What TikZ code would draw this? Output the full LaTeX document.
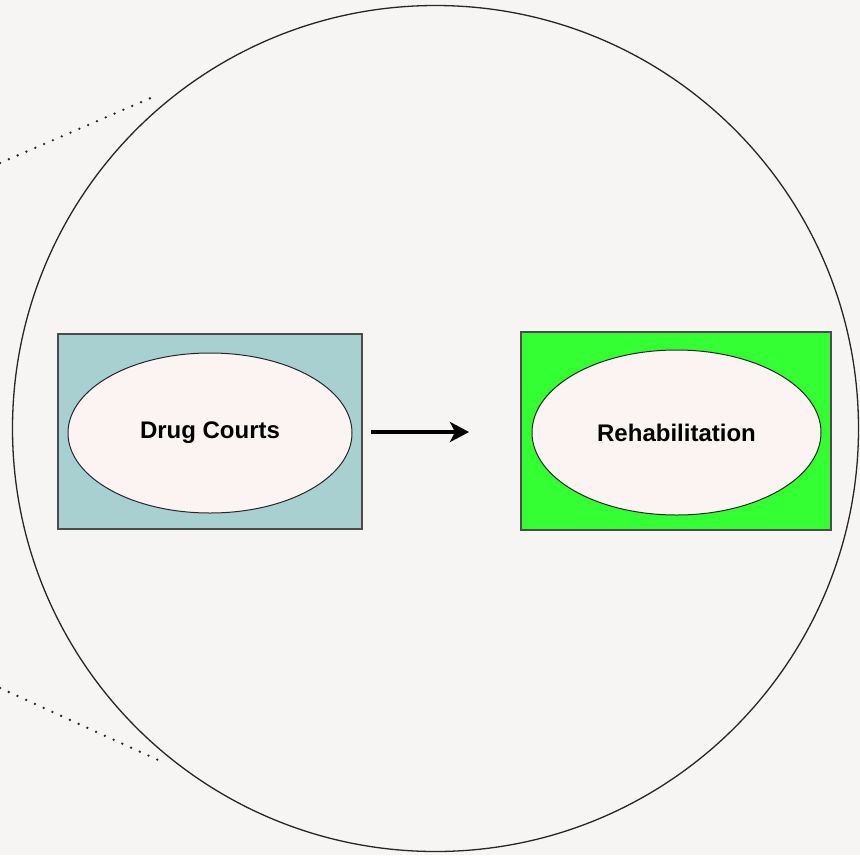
\documentclass[tikz,border=0pt]{standalone}
\usepackage{fontspec}
\setmainfont{Liberation Sans}
\usetikzlibrary{shapes.geometric,arrows.meta}
\definecolor{bgc}{HTML}{F6F5F3}
\definecolor{tealbox}{HTML}{A8D0D0}
\definecolor{greenbox}{HTML}{33FF33}
\definecolor{ellfill}{HTML}{FCF4F2}
\tikzset{
  inner/.style={ellipse, draw=black!85, fill=ellfill, line width=1pt, font=\bfseries\fontsize{24}{28}\selectfont},
  dotline/.style={line width=2.6pt, dash pattern=on 0pt off 9.6pt, line cap=round, black!85},
}
\begin{document}
\begin{tikzpicture}[x=1pt,y=-1pt]
\fill[bgc] (0,0) rectangle (860,855);
\useasboundingbox (0,0) rectangle (860,855);
% outer circle
\node[circle, draw=black!85, line width=1.3pt, minimum size=846pt, inner sep=0pt] (big) at (435.5,428.5) {};
% dotted lines
\coordinate (t1) at (0,163);
\coordinate (t2) at (153,97);
\coordinate (b1) at (0,688);
\coordinate (b2) at (158,760);
\draw[dotline] (t1) -- (t2);
\draw[dotline] (b1) -- (b2);
% left box
\node[draw=black!70, line width=1.1pt, fill=tealbox, minimum width=304pt, minimum height=195pt, inner sep=0pt] (lbox) at (210,431.5) {};
\node[inner, minimum width=284pt, minimum height=160pt, inner sep=0pt] (lell) at (210,433) {\raisebox{-2pt}{Drug Courts}};
% right box
\node[draw=black!70, line width=1.1pt, fill=greenbox, minimum width=310pt, minimum height=198pt, inner sep=0pt] (rbox) at (676,431) {};
\node[inner, minimum width=289pt, minimum height=165pt, inner sep=0pt] (rell) at (676.5,432.5) {Rehabilitation};
% arrow
\coordinate (as) at (371,432);
\coordinate (ae) at (469,432);
\draw[line width=4pt, -{Stealth[length=19pt,width=20pt,inset=5pt]}] (as) -- (ae);
\end{tikzpicture}
\end{document}
